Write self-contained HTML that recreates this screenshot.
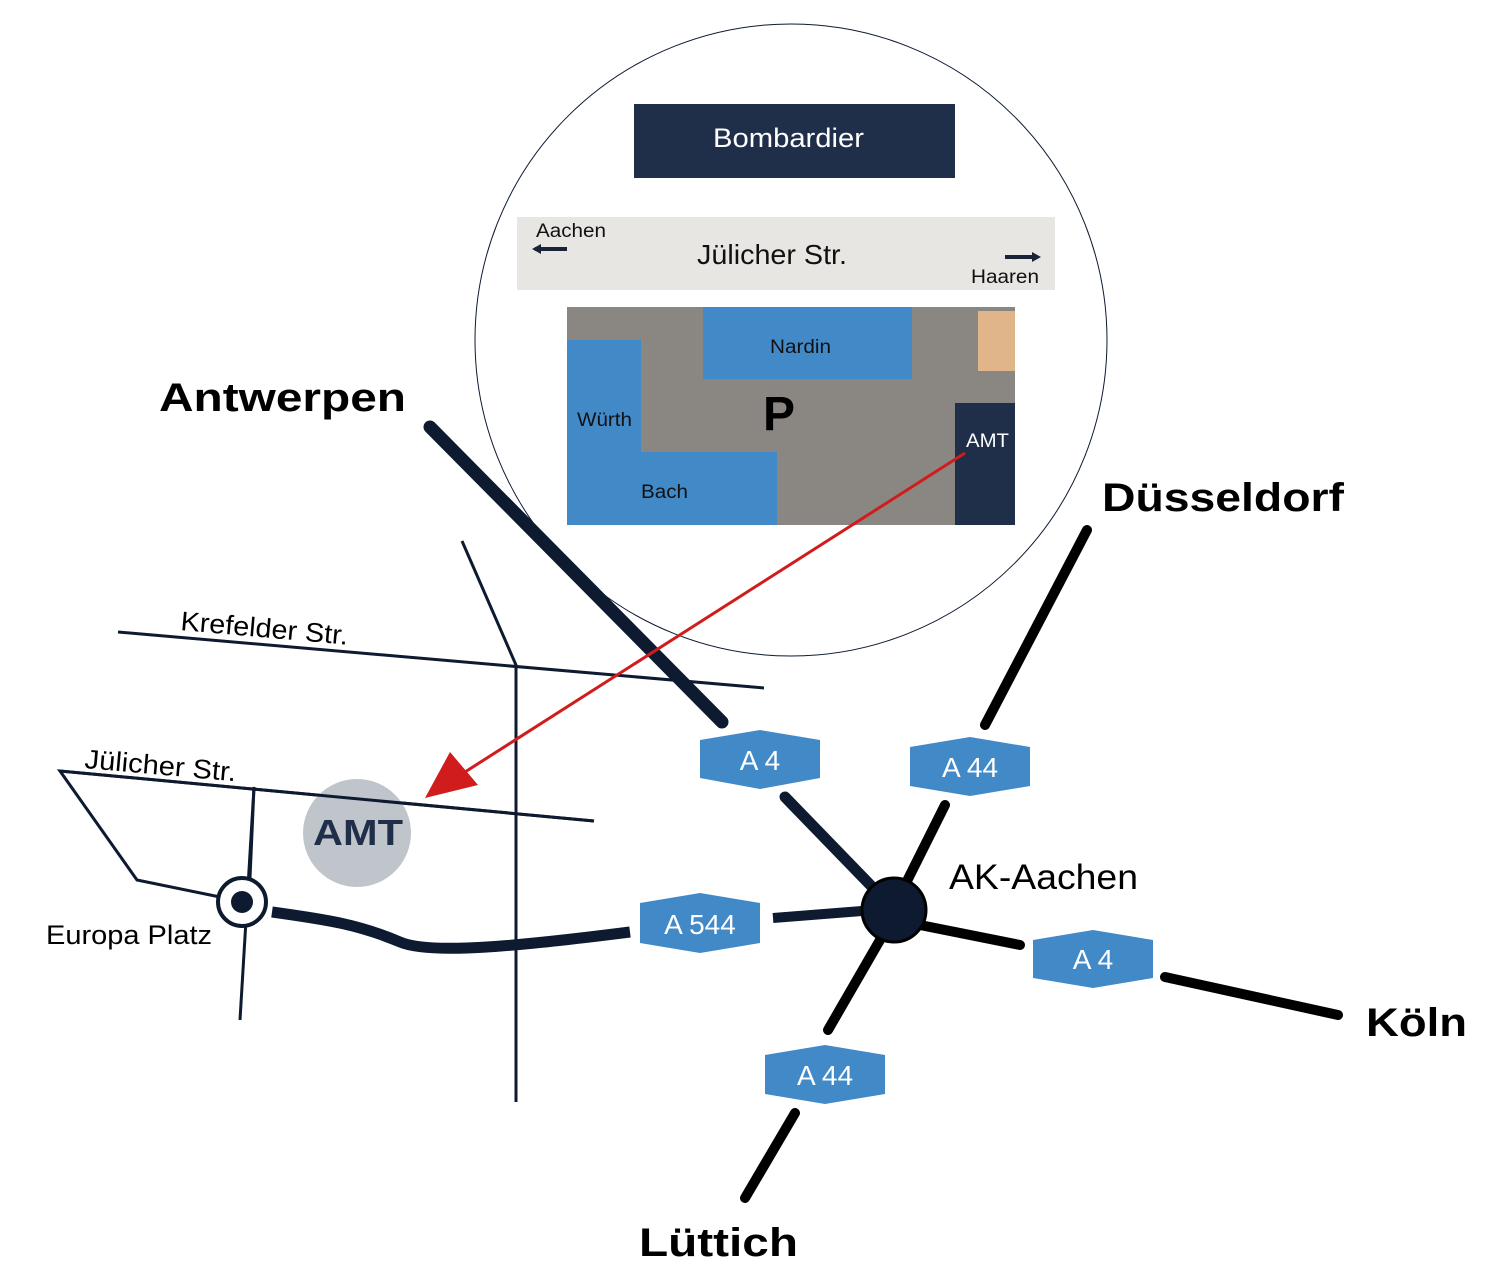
<!DOCTYPE html>
<html><head><meta charset="utf-8"><style>body{margin:0;background:#fff}svg{display:block}text{font-family:"Liberation Sans",sans-serif}</style></head><body>
<svg width="1495" height="1279" viewBox="0 0 1495 1279" xmlns="http://www.w3.org/2000/svg">
<circle cx="791" cy="340" r="316" fill="#fff" stroke="#0d1a30" stroke-width="1"/>
<rect x="634" y="104" width="321" height="74" fill="#1f2f4a"/>
<text x="713" y="147" font-size="27" fill="#fff" textLength="151" lengthAdjust="spacingAndGlyphs">Bombardier</text>
<rect x="517" y="217" width="538" height="73" fill="#e7e6e3"/>
<text x="536" y="237" font-size="19" fill="#111" textLength="70" lengthAdjust="spacingAndGlyphs">Aachen</text>
<text x="697" y="264" font-size="28" fill="#111" textLength="150" lengthAdjust="spacingAndGlyphs">Jülicher Str.</text>
<text x="971" y="283" font-size="19" fill="#111" textLength="68" lengthAdjust="spacingAndGlyphs">Haaren</text>
<path d="M535 249 H567" stroke="#1a2238" stroke-width="4"/><path d="M532 249 l9 -5 v10z" fill="#1a2238"/>
<path d="M1005 257 H1035" stroke="#1a2238" stroke-width="4"/><path d="M1041 257 l-9 -5 v10z" fill="#1a2238"/>
<rect x="567" y="307" width="448" height="218" fill="#8a8782"/>
<rect x="703" y="307" width="209" height="72" fill="#4289c8"/>
<rect x="567" y="340" width="74" height="185" fill="#4289c8"/>
<rect x="567" y="452" width="210" height="73" fill="#4289c8"/>
<rect x="978" y="311" width="37" height="60" fill="#e0b58a"/>
<rect x="955" y="403" width="60" height="122" fill="#1f2f4a"/>
<text x="770" y="353" font-size="19" fill="#111" textLength="61" lengthAdjust="spacingAndGlyphs">Nardin</text>
<text x="577" y="426" font-size="19" fill="#111" textLength="55" lengthAdjust="spacingAndGlyphs">Würth</text>
<text x="641" y="498" font-size="19" fill="#111" textLength="47" lengthAdjust="spacingAndGlyphs">Bach</text>
<text x="966" y="447" font-size="19" fill="#fff" textLength="43" lengthAdjust="spacingAndGlyphs">AMT</text>
<text x="779" y="430" font-size="48" font-weight="bold" fill="#000" text-anchor="middle">P</text>
<g stroke="#0d1a30" stroke-width="3" fill="none">
<path d="M118 632 L764 688"/>
<path d="M462 541 L516 665 L516 1102"/>
<path d="M220 897 L137 880 L60 771 L594 821"/>
<path d="M254 787 L240 1020"/>
</g>
<circle cx="357" cy="833" r="54" fill="#c0c4cb"/>
<text x="313" y="845" font-size="36" font-weight="bold" fill="#1f2f4a" textLength="90" lengthAdjust="spacingAndGlyphs">AMT</text>
<path d="M254 787 L250 878" stroke="#0d1a30" stroke-width="3"/>
<path d="M60 771 L594 821" stroke="#0d1a30" stroke-width="3"/>
<g stroke="#0d1a30" stroke-linecap="round" fill="none">
<path d="M430 427 L722 722" stroke-width="13"/>
<path d="M785 797 L880 895" stroke-width="11"/>
<path d="M272 912 C330 920 360 925 400 942 C430 955 520 946 630 932" stroke-width="11" stroke-linecap="butt"/>
<path d="M773 918 L862 911" stroke-width="10" stroke-linecap="butt"/>
</g>
<g stroke="#000" stroke-width="10" stroke-linecap="round" fill="none">
<path d="M1087 530 L985 725"/>
<path d="M945 805 L905 885"/>
<path d="M920 925 L1020 945"/>
<path d="M1165 977 L1338 1015"/>
<path d="M880 940 L828 1030"/>
<path d="M795 1113 L745 1198"/>
</g>
<circle cx="894" cy="910" r="32" fill="#0d1a30" stroke="#000" stroke-width="3"/>
<circle cx="242" cy="902" r="24" fill="#fff" stroke="#0d1a30" stroke-width="4"/>
<circle cx="242" cy="902" r="11" fill="#0d1a30"/>
<g fill="#4289c8">
<path d="M700 740 L760 730 L820 740 L820 778 L760 789 L700 778Z"/>
<path d="M910 747 L970 737 L1030 747 L1030 786 L970 796 L910 786Z"/>
<path d="M640 903 L700 893 L760 903 L760 943 L700 953 L640 943Z"/>
<path d="M1033 940 L1093 930 L1153 940 L1153 978 L1093 988 L1033 978Z"/>
<path d="M765 1055 L825 1045 L885 1055 L885 1094 L825 1104 L765 1094Z"/>
</g>
<g fill="#fff" font-size="28" text-anchor="middle">
<text x="760" y="770">A 4</text>
<text x="970" y="777">A 44</text>
<text x="700" y="934">A 544</text>
<text x="1093" y="969">A 4</text>
<text x="825" y="1085">A 44</text>
</g>
<path d="M965 453 L465 772" stroke="#d01c1c" stroke-width="3"/>
<path d="M425 798 L450 752 L478 785Z" fill="#d01c1c"/>
<g font-weight="bold" font-size="40" fill="#000" lengthAdjust="spacingAndGlyphs">
<text x="159" y="411" textLength="247" lengthAdjust="spacingAndGlyphs">Antwerpen</text>
<text x="1102" y="511" textLength="242" lengthAdjust="spacingAndGlyphs">Düsseldorf</text>
<text x="1366" y="1036" textLength="101" lengthAdjust="spacingAndGlyphs">Köln</text>
<text x="639" y="1256" textLength="159" lengthAdjust="spacingAndGlyphs">Lüttich</text>
</g>
<text x="949" y="889" font-size="35" fill="#000" textLength="189" lengthAdjust="spacingAndGlyphs">AK-Aachen</text>
<text x="46" y="944" font-size="27" fill="#000" textLength="166" lengthAdjust="spacingAndGlyphs">Europa Platz</text>
<text x="180" y="630" font-size="27" fill="#000" transform="rotate(5 180 630)" textLength="168" lengthAdjust="spacingAndGlyphs">Krefelder Str.</text>
<text x="84" y="768" font-size="27" fill="#000" transform="rotate(5 84 768)" textLength="152" lengthAdjust="spacingAndGlyphs">Jülicher Str.</text>
</svg>
</body></html>
